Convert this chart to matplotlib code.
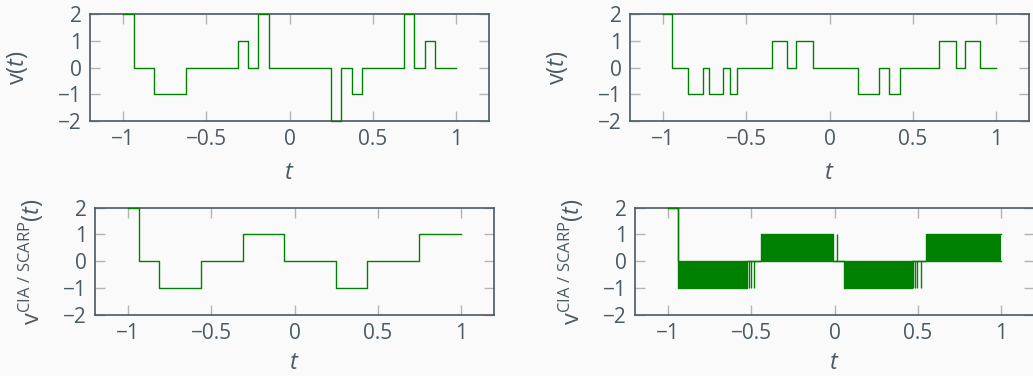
import numpy as np
import matplotlib
matplotlib.use("Agg")
import matplotlib.pyplot as plt

plt.rcParams["font.family"] = ["Open Sans", "DejaVu Sans"]
plt.rcParams["mathtext.fontset"] = "custom"
plt.rcParams["mathtext.rm"] = "Open Sans"
plt.rcParams["mathtext.it"] = "Open Sans:italic"
plt.rcParams["mathtext.sf"] = "Open Sans"
plt.rcParams["axes.unicode_minus"] = True

txt_col = '#4a5a63'
spine_col = '#4a5a63'
tick_col = '#b4b4b4'
bg = '#fafafa'
line_col = 'green'

### data: step functions (breakpoints + value on each interval) ####
# top left, v(t)
tl_edges = [-1, -0.9375, -0.8125, -0.625, -0.3125, -0.25, -0.1875, -0.125,
            0.25, 0.3125, 0.375, 0.4375, 0.6875, 0.75, 0.8125, 0.875, 1.0]
tl_vals = [2, 0, -1, 0, 1, 0, 2, 0, -2, 0, -1, 0, 2, 0, 1, 0]

# top right, v(t)
tr_edges = [-1, -0.948, -0.854, -0.763, -0.723, -0.639, -0.599, -0.559,
            -0.348, -0.258, -0.204, -0.101, 0.1735, 0.298, 0.356, 0.422,
            0.659, 0.761, 0.815, 0.906, 1.0]
tr_vals = [2, 0, -1, 0, -1, 0, -1, 0, 1, 0, 1, 0, -1, 0, -1, 0, 1, 0, 1, 0]

# bottom left, v^CIA/SCARP(t)
bl_edges = [-1, -0.9375, -0.8125, -0.5625, -0.3125, -0.0625, 0.25, 0.4375, 0.75, 1.0]
bl_vals = [2, 0, -1, 0, 1, 0, -1, 0, 1]

# bottom right, chattering: lower / upper envelope of the switching bands
br_edges = [-1, -0.94, -0.528, -0.44, -0.007, 0.059, 0.4645, 0.55, 1.0]
br_lo = [2, -1, 0, 0, 0, -1, 0, 0]
br_hi = [2, 0, 0, 1, 0, 0, 0, 1]
# isolated switches at the end of each band
br_tail_t = [-0.514, -0.502, -0.484, 0.013, 0.474, 0.486, 0.498, 0.519]
br_tail_v = [-1, -1, -1, 1, -1, -1, -1, -1]

xticks = [-1, -0.5, 0, 0.5, 1]
xticklabels = ['\u22121', '\u22120.5', '0', '0.5', '1']
yticks = [-2, -1, 0, 1, 2]
yticklabels = ['\u22122', '\u22121', '0', '1', '2']

fig = plt.figure(figsize=(10.33, 3.76), dpi=100)
fig.patch.set_facecolor(bg)

W = 399 / 1033.
pos = {
    'tl': [90 / 1033., 1 - 121 / 376., W, 107 / 376.],
    'tr': [630 / 1033., 1 - 121 / 376., W, 107 / 376.],
    'bl': [95 / 1033., 1 - 315 / 376., W, 107.5 / 376.],
    'br': [635 / 1033., 1 - 315 / 376., W, 107.5 / 376.],
}

lab_v = r'$\mathrm{v}(t)$'
lab_cia = r'$\mathrm{v}^{\mathrm{CIA\ /\ SCARP}}(t)$'


def style(ax, ylab, ypad, xpad):
    ax.set_facecolor(bg)
    ax.set_xlim(-1.2, 1.2)
    ax.set_ylim(-2, 2)
    ax.set_xticks(xticks)
    ax.set_xticklabels(xticklabels)
    ax.set_yticks(yticks)
    ax.set_yticklabels(yticklabels)
    ax.tick_params(direction='in', top=True, right=True, length=7.5, width=1,
                   color=tick_col, labelcolor=txt_col, labelsize=15, pad=6)
    for s in ax.spines.values():
        s.set_color(spine_col)
        s.set_linewidth(1.2)
    ax.set_xlabel(r'$t$', fontsize=17, color=txt_col, labelpad=xpad)
    ax.set_ylabel(ylab, fontsize=17, color=txt_col, labelpad=ypad)


def stairs(ax, edges, vals):
    ax.step(edges, list(vals) + [vals[-1]], where='post', color=line_col,
            lw=1.0, clip_on=False, zorder=3)


ax1 = fig.add_axes(pos['tl'])
stairs(ax1, tl_edges, tl_vals)
style(ax1, lab_v, 20, 8)

ax2 = fig.add_axes(pos['tr'])
stairs(ax2, tr_edges, tr_vals)
style(ax2, lab_v, 20, 8)

ax3 = fig.add_axes(pos['bl'])
stairs(ax3, bl_edges, bl_vals)
style(ax3, lab_cia, 12, 5)

ax4 = fig.add_axes(pos['br'])
lo = np.array(br_lo + [br_lo[-1]])
hi = np.array(br_hi + [br_hi[-1]])
ax4.fill_between(br_edges, lo, hi, step='post', color=line_col, lw=0)
ax4.step(br_edges, lo, where='post', color=line_col, lw=1.0, clip_on=False, zorder=3)
ax4.step(br_edges, hi, where='post', color=line_col, lw=1.0, clip_on=False, zorder=3)
ax4.vlines(br_tail_t, 0, br_tail_v, color=line_col, lw=1.0)
style(ax4, lab_cia, 12, 5)

plt.savefig('out.png', dpi=100, facecolor=bg)
